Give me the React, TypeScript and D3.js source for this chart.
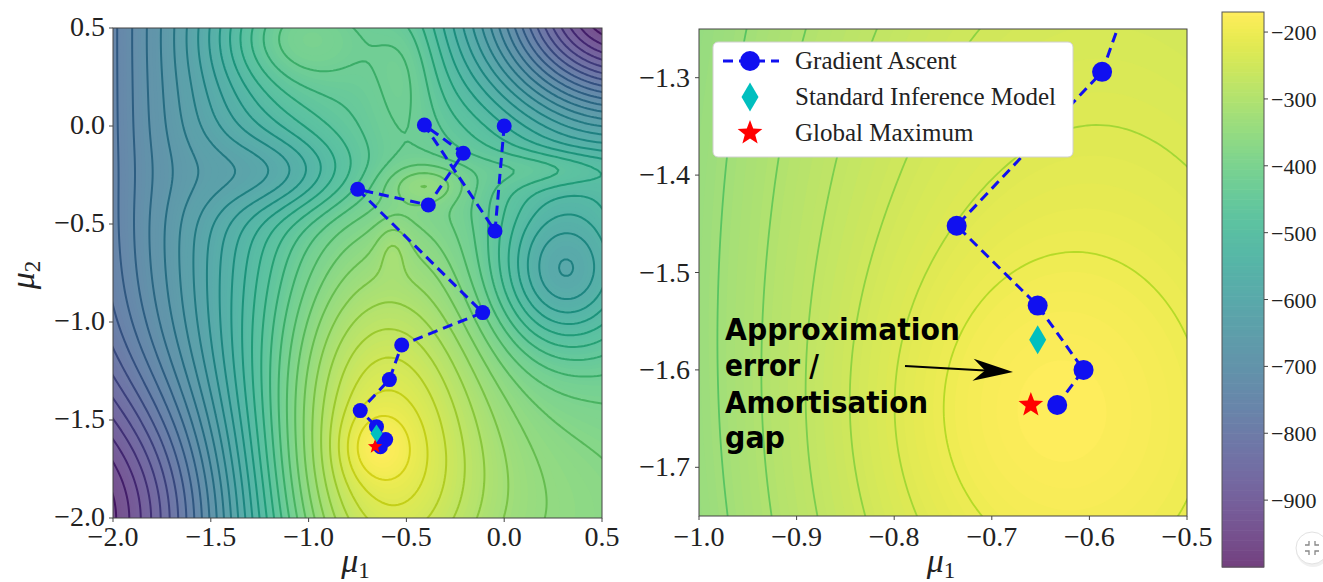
import React, { useMemo } from "react";
import * as d3 from "d3";

// ---------------- surface model ----------------
const PLATEAU = -440;
const RAMP_SLOPE = 330;
const RAMP_X = -1.05;
const RAMP_W = 0.3;
const HILL_AMP = 243;
const HILL_CX = -0.66;
const HILL_CY = -1.64;
const HILL_S_LEFT = 0.44;
const HILL_S_RIGHT = 0.42;
const HILL_S_UP = 0.8;
const HILL_S_DOWN = 0.68;
// extra bumps / basins: sharp top, top-right corner, basin, bottom-left corner,
// bottom-right lift, valley, top-left bump, top-middle bump, tongue, ridge bumps
const bumpAmp = [40, -560, -175, -200, 70, -90, 100, 45, 50, 30, 60];
const bumpCx = [-0.66, 0.62, 0.3, -2.0, 0.4, -1.12, -1.1, -0.5, 0.25, -0.57, -0.4];
const bumpCy = [-1.64, 0.62, -0.75, -2.0, -2.0, -0.24, 0.45, 0.32, -0.22, -0.62, -0.3];
const bumpSx = [0.12, 0.5, 0.25, 0.5, 0.6, 0.3, 0.28, 0.13, 0.25, 0.06, 0.14];
const bumpSy = [0.12, 0.42, 0.28, 0.5, 0.6, 0.15, 0.2, 0.25, 0.07, 0.1, 0.07];

// gradient ascent path
const pathMu1 = [0.0, -0.047, -0.408, -0.209, -0.388, -0.749, -0.11, -0.524, -0.587, -0.736, -0.653, -0.606, -0.633];
const pathMu2 = [0.0, -0.536, 0.005, -0.139, -0.403, -0.323, -0.952, -1.117, -1.294, -1.452, -1.534, -1.6, -1.636];
const simMu = [-0.653, -1.569];
const maxMu = [-0.66, -1.636];

// ticks / levels
const leftTicks = [-2.0, -1.5, -1.0, -0.5, 0.0, 0.5];
const rightXTicks = [-1.0, -0.9, -0.8, -0.7, -0.6, -0.5];
const rightYTicks = [-1.3, -1.4, -1.5, -1.6, -1.7];
const cbTicks = [-200, -300, -400, -500, -600, -700, -800, -900];
const lineLevels = d3.range(-975, -199, 25);
const CMIN = -1000;
const CMAX = -170;
const FILL_STEP = 5;

const legendLabels = ["Gradient Ascent", "Standard Inference Model", "Global Maximum"];
const annoLines = ["Approximation", "error /", "Amortisation", "gap"];
const annoWidths = [235, 94, 203, 60];
const annoBaselines = [340, 376, 413, 448];

// ---------------- layout ----------------
const LEFT = { x0: 113, x1: 602, y0: 28, y1: 518, xd: [-2, 0.5], yd: [-2, 0.5], n: 150 };
const RIGHT = { x0: 699, x1: 1187, y0: 29, y1: 516, xd: [-1, -0.5], yd: [-1.75, -1.25], n: 110 };
const CB = { x0: 1222, x1: 1264, y0: 12, y1: 567 };
const ALPHA = 0.75;
const SERIF = "'Liberation Serif', 'DejaVu Serif', serif";
const BLUE = "#1010f0";

function field(x: number, y: number): number {
  const z = (RAMP_X - x) / RAMP_W;
  const r = RAMP_W * (z > 30 ? z : Math.log(1 + Math.exp(z)));
  let v = PLATEAU - RAMP_SLOPE * r;
  const dx = x - HILL_CX;
  const dy = y - HILL_CY;
  const sx = dx < 0 ? HILL_S_LEFT : HILL_S_RIGHT;
  const sy = dy > 0 ? HILL_S_UP : HILL_S_DOWN;
  v += HILL_AMP * Math.exp(-0.5 * ((dx / sx) ** 2 + (dy / sy) ** 2));
  for (let k = 0; k < bumpAmp.length; k++) {
    const a = (x - bumpCx[k]) / bumpSx[k];
    const b = (y - bumpCy[k]) / bumpSy[k];
    v += bumpAmp[k] * Math.exp(-0.5 * (a * a + b * b));
  }
  return v;
}

function tNorm(v: number): number {
  return Math.max(0, Math.min(1, (v - CMIN) / (CMAX - CMIN)));
}
function fillColor(v: number): string {
  const c = d3.rgb(d3.interpolateViridis(tNorm(v)));
  return d3.rgb(c.r * ALPHA + 255 * (1 - ALPHA), c.g * ALPHA + 255 * (1 - ALPHA), c.b * ALPHA + 255 * (1 - ALPHA)).formatHex();
}
function lineColor(v: number, k: number, shift: number): string {
  return d3.rgb(d3.interpolateViridis(Math.max(0, tNorm(v) - shift))).darker(k).formatHex();
}

function fmt(v: number): string {
  const s = Math.abs(v).toFixed(1);
  return (v < -1e-9 ? "\u2212" : "") + s;
}

function starPath(cx: number, cy: number, R: number): string {
  const r = R * 0.42;
  const pts: string[] = [];
  for (let i = 0; i < 10; i++) {
    const ang = -Math.PI / 2 + (i * Math.PI) / 5;
    const rr = i % 2 === 0 ? R : r;
    pts.push(`${cx + rr * Math.cos(ang)},${cy + rr * Math.sin(ang)}`);
  }
  return "M" + pts.join("L") + "Z";
}
function diamondPath(cx: number, cy: number, w: number, h: number): string {
  return `M${cx},${cy - h / 2}L${cx + w / 2},${cy}L${cx},${cy + h / 2}L${cx - w / 2},${cy}Z`;
}

function computePanel(P: typeof LEFT) {
  const pad = 3;
  const n = P.n;
  const N = n + 2 * pad;
  const cw = (P.xd[1] - P.xd[0]) / n;
  const ch = (P.yd[1] - P.yd[0]) / n;
  const values = new Float64Array(N * N);
  let mn = Infinity, mx = -Infinity;
  for (let j = 0; j < N; j++) {
    for (let i = 0; i < N; i++) {
      if (i === 0 || j === 0 || i === N - 1 || j === N - 1) {
        values[j * N + i] = -1e6;
        continue;
      }
      const x = P.xd[0] + (i - pad + 0.5) * cw;
      const y = P.yd[1] - (j - pad + 0.5) * ch;
      const v = field(x, y);
      values[j * N + i] = v;
      if (v < mn) mn = v;
      if (v > mx) mx = v;
    }
  }
  const kx = (P.x1 - P.x0) / n;
  const ky = (P.y1 - P.y0) / n;
  const proj = d3.geoTransform({
    point: function (this: any, x: number, y: number) {
      this.stream.point(P.x0 + (x - pad) * kx, P.y0 + (y - pad) * ky);
    },
  });
  const gp = d3.geoPath(proj);
  const gen = d3.contours().size([N, N]);
  const fillLevels = d3.range(CMIN, CMAX + 0.001, FILL_STEP).filter((t) => t > mn - FILL_STEP && t <= mx);
  const fills = fillLevels.map((t) => ({ t, d: gp(gen.contour(values as any, t) as any) || "" }));
  const lines = lineLevels.filter((t) => t > mn && t < mx).map((t) => ({ t, d: gp(gen.contour(values as any, t) as any) || "" }));
  return { fills, lines, mn };
}

function MuLabel({ x, y, sub, rotate }: { x: number; y: number; sub: string; rotate?: boolean }) {
  return (
    <text
      transform={rotate ? `translate(${x},${y}) rotate(-90)` : `translate(${x},${y})`}
      textAnchor="middle"
      fontSize={34}
      fontStyle="italic"
      fill="#222"
    >
      μ<tspan fontSize={23} fontStyle="normal" dy={6}>{sub}</tspan>
    </text>
  );
}

export default function App() {
  const left = useMemo(() => computePanel(LEFT), []);
  const right = useMemo(() => computePanel(RIGHT), []);

  const lx = d3.scaleLinear().domain(LEFT.xd).range([LEFT.x0, LEFT.x1]);
  const ly = d3.scaleLinear().domain(LEFT.yd).range([LEFT.y1, LEFT.y0]);
  const rx = d3.scaleLinear().domain(RIGHT.xd).range([RIGHT.x0, RIGHT.x1]);
  const ry = d3.scaleLinear().domain(RIGHT.yd).range([RIGHT.y1, RIGHT.y0]);
  const cy = d3.scaleLinear().domain([CMIN, CMAX]).range([CB.y1, CB.y0]);

  const pathPts = pathMu1.map((m, i) => [m, pathMu2[i]] as [number, number]);
  const lineL = d3.line<[number, number]>().x((d) => lx(d[0])).y((d) => ly(d[1]));
  const lineR = d3.line<[number, number]>().x((d) => rx(d[0])).y((d) => ry(d[1]));

  const cbLevels = d3.range(CMIN, CMAX, FILL_STEP);

  // arrow
  const A0 = [905, 366];
  const A1 = [1013, 372];
  const len = Math.hypot(A1[0] - A0[0], A1[1] - A0[1]);
  const ux = (A1[0] - A0[0]) / len, uy = (A1[1] - A0[1]) / len;
  const nx = -uy, ny = ux;
  const HL = 40, HW = 11, NOTCH = 12;
  const headD = `M${A1[0]},${A1[1]}L${A1[0] - HL * ux + HW * nx},${A1[1] - HL * uy + HW * ny}L${A1[0] - (HL - NOTCH) * ux},${A1[1] - (HL - NOTCH) * uy}L${A1[0] - HL * ux - HW * nx},${A1[1] - HL * uy - HW * ny}Z`;

  const tickStroke = "#444";

  return (
    <svg width={1323} height={582} style={{ position: "absolute", left: 0, top: 0, background: "#fff" }} fontFamily={SERIF}>
      <defs>
        <clipPath id="clipL">
          <rect x={LEFT.x0} y={LEFT.y0} width={LEFT.x1 - LEFT.x0} height={LEFT.y1 - LEFT.y0} />
        </clipPath>
        <clipPath id="clipR">
          <rect x={RIGHT.x0} y={RIGHT.y0} width={RIGHT.x1 - RIGHT.x0} height={RIGHT.y1 - RIGHT.y0} />
        </clipPath>
      </defs>

      {/* ---------- LEFT PANEL ---------- */}
      <g clipPath="url(#clipL)">
        <rect x={LEFT.x0} y={LEFT.y0} width={LEFT.x1 - LEFT.x0} height={LEFT.y1 - LEFT.y0} fill={fillColor(CMIN)} />
        {left.fills.map((f) => (
          <path key={"lf" + f.t} d={f.d} fill={fillColor(f.t + FILL_STEP / 2)} stroke="none" />
        ))}
        {left.lines.map((f) => (
          <path key={"ll" + f.t} d={f.d} fill="none" stroke={lineColor(f.t, 0.25, 0)} strokeWidth={2} strokeLinejoin="round" />
        ))}
        <path d={lineL(pathPts) || ""} fill="none" stroke={BLUE} strokeWidth={3} strokeDasharray="10 6" />
        {pathPts.map((p, i) => (
          <circle key={"lc" + i} cx={lx(p[0])} cy={ly(p[1])} r={7.5} fill={BLUE} />
        ))}
        <path d={diamondPath(lx(simMu[0]), ly(simMu[1]), 12, 18)} fill="#00bfbf" />
        <path d={starPath(lx(maxMu[0]), ly(maxMu[1]), 7.5)} fill="#ff0000" />
      </g>
      <rect x={LEFT.x0} y={LEFT.y0} width={LEFT.x1 - LEFT.x0} height={LEFT.y1 - LEFT.y0} fill="none" stroke="#444" strokeWidth={1} />
      {leftTicks.map((t) => (
        <g key={"lxt" + t}>
          <line x1={lx(t)} x2={lx(t)} y1={LEFT.y1} y2={LEFT.y1 + 4} stroke={tickStroke} />
          <text x={lx(t)} y={546} textAnchor="middle" fontSize={28} fill="#222">{fmt(t)}</text>
          <line x1={LEFT.x0} x2={LEFT.x0 - 4} y1={ly(t)} y2={ly(t)} stroke={tickStroke} />
          <text x={105} y={ly(t) + 8} textAnchor="end" fontSize={28} fill="#222">{fmt(t)}</text>
        </g>
      ))}
      <MuLabel x={(LEFT.x0 + LEFT.x1) / 2 - 2} y={572} sub="1" />
      <MuLabel x={34} y={(LEFT.y0 + LEFT.y1) / 2 + 2} sub="2" rotate />

      {/* ---------- RIGHT PANEL ---------- */}
      <g clipPath="url(#clipR)">
        <rect x={RIGHT.x0} y={RIGHT.y0} width={RIGHT.x1 - RIGHT.x0} height={RIGHT.y1 - RIGHT.y0} fill={fillColor(right.mn)} />
        {right.fills.map((f) => (
          <path key={"rf" + f.t} d={f.d} fill={fillColor(f.t + FILL_STEP / 2)} stroke="none" />
        ))}
        {right.lines.map((f) => (
          <path key={"rl" + f.t} d={f.d} fill="none" stroke={lineColor(f.t, 0.05, 0.07)} strokeWidth={1.8} />
        ))}
        <path d={lineR(pathPts) || ""} fill="none" stroke={BLUE} strokeWidth={3} strokeDasharray="10 6" />
        {pathPts.map((p, i) => (
          <circle key={"rc" + i} cx={rx(p[0])} cy={ry(p[1])} r={10} fill={BLUE} />
        ))}
        <path d={diamondPath(rx(simMu[0]), ry(simMu[1]), 17, 29)} fill="#00bfbf" />
        <path d={starPath(rx(maxMu[0]), ry(maxMu[1]), 13)} fill="#ff0000" />
      </g>
      <rect x={RIGHT.x0} y={RIGHT.y0} width={RIGHT.x1 - RIGHT.x0} height={RIGHT.y1 - RIGHT.y0} fill="none" stroke="#444" strokeWidth={1} />
      {rightXTicks.map((t) => (
        <g key={"rxt" + t}>
          <line x1={rx(t)} x2={rx(t)} y1={RIGHT.y1} y2={RIGHT.y1 + 4} stroke={tickStroke} />
          <text x={rx(t)} y={546} textAnchor="middle" fontSize={28} fill="#222">{fmt(t)}</text>
        </g>
      ))}
      {rightYTicks.map((t) => (
        <g key={"ryt" + t}>
          <line x1={RIGHT.x0} x2={RIGHT.x0 - 4} y1={ry(t)} y2={ry(t)} stroke={tickStroke} />
          <text x={690} y={ry(t) + 9} textAnchor="end" fontSize={28} fill="#222">{fmt(t)}</text>
        </g>
      ))}
      <MuLabel x={(RIGHT.x0 + RIGHT.x1) / 2 - 2} y={572} sub="1" />

      {/* legend */}
      <rect x={713} y={42} width={360} height={115} rx={5} fill="#fff" stroke="#d0d0d0" />
      <line x1={723} x2={779} y1={61} y2={61} stroke={BLUE} strokeWidth={3} strokeDasharray="10 6" />
      <circle cx={750} cy={61} r={10} fill={BLUE} />
      <path d={diamondPath(750, 97, 17, 29)} fill="#00bfbf" />
      <path d={starPath(750, 133, 13)} fill="#ff0000" />
      {legendLabels.map((s, i) => (
        <text key={s} x={795} y={69 + i * 36} fontSize={25} fill="#222">{s}</text>
      ))}

      {/* annotation */}
      {annoLines.map((s, i) => (
        <text key={s} x={725} y={annoBaselines[i]} fontSize={31} fontWeight="bold" fontFamily="'DejaVu Sans', sans-serif" fill="#000" textLength={annoWidths[i]} lengthAdjust="spacingAndGlyphs">
          {s}
        </text>
      ))}
      <line x1={A0[0]} y1={A0[1]} x2={A1[0] - (HL - NOTCH) * ux} y2={A1[1] - (HL - NOTCH) * uy} stroke="#000" strokeWidth={2} />
      <path d={headD} fill="#000" />

      {/* ---------- COLORBAR ---------- */}
      {cbLevels.map((v) => (
        <rect key={"cb" + v} x={CB.x0} y={cy(v + FILL_STEP)} width={CB.x1 - CB.x0} height={cy(v) - cy(v + FILL_STEP) + 0.6} fill={fillColor(v + FILL_STEP / 2)} />
      ))}
      <rect x={CB.x0} y={CB.y0} width={CB.x1 - CB.x0} height={CB.y1 - CB.y0} fill="none" stroke="#555" strokeWidth={1} />
      {cbTicks.map((t) => (
        <g key={"cbt" + t}>
          <line x1={CB.x1} x2={CB.x1 + 4} y1={cy(t)} y2={cy(t)} stroke={tickStroke} />
          <text x={1271} y={cy(t) + 8} fontSize={22} fill="#222">{"\u2212" + Math.abs(t)}</text>
        </g>
      ))}

      {/* small round UI button in the screenshot corner */}
      <circle cx={1313} cy={550} r={17} fill="#000" opacity={0.06} />
      <circle cx={1312} cy={548} r={16} fill="#fff" stroke="#e2e2e2" />
      <g stroke="#888" strokeWidth={1.3} fill="none">
        <path d="M1305,545 h4 v-4" />
        <path d="M1315,541 v4 h4" />
        <path d="M1305,551 h4 v4" />
        <path d="M1315,555 v-4 h4" />
      </g>
    </svg>
  );
}
